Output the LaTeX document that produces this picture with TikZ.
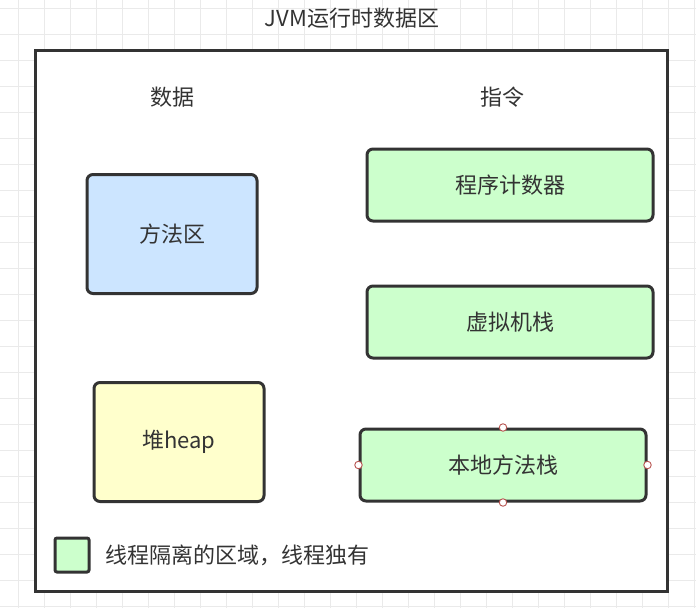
\documentclass[tikz,border=0pt]{standalone}
\usepackage{fontspec}
\setmainfont{Noto Sans CJK SC}
\usepackage{tikz}
\usetikzlibrary{positioning}

\begin{document}
\begin{tikzpicture}[
    x=1pt, y=-1pt,
    area/.style={draw=lineC, rectangle, rounded corners=6pt, line width=3pt,
                 inner sep=0pt, text=textC, font=\fontsize{22}{26}\selectfont},
    label/.style={text=textC, inner sep=0pt, font=\fontsize{22}{26}\selectfont},
    handle/.style={circle, draw=handleC, fill=white, line width=0.9pt,
                   inner sep=0pt, minimum size=7.5pt},
]

% Color definitions
\definecolor{lineC}{RGB}{51,51,51}
\definecolor{textC}{RGB}{51,51,51}
\definecolor{gridC}{RGB}{234,234,234}
\definecolor{methodC}{RGB}{204,229,255}
\definecolor{heapC}{RGB}{255,255,204}
\definecolor{threadC}{RGB}{204,255,204}
\definecolor{handleC}{RGB}{184,84,80}

\useasboundingbox (0,0) rectangle (696,608);

% Background grid
\foreach \gx in {0,...,26} {
  \draw[gridC, line width=0.8pt] (18+26*\gx,0) -- (18+26*\gx,608);
}
\foreach \gy in {0,...,23} {
  \draw[gridC, line width=0.8pt] (0,8.3+26*\gy) -- (696,8.3+26*\gy);
}

% Title and outer frame
\node[label] (title) at (352,18) {JVM运行时数据区};
\node[draw=lineC, fill=white, line width=3pt, rectangle, inner sep=0pt,
      minimum width=632pt, minimum height=541pt] (frame) at (351,320.5) {};

% Column headings
\node[label] (data) at (172,97) {数据};
\node[label] (instr) at (502,97) {指令};

% Shared areas
\node[area, fill=methodC, minimum width=170pt, minimum height=119pt]
  (method) at (172,234) {方法区};
\node[area, fill=heapC, minimum width=170pt, minimum height=119pt]
  (heap) at (179,442) {堆heap};

% Thread-private areas
\node[area, fill=threadC, minimum width=286pt, minimum height=72pt]
  (pc) at (510,185) {程序计数器};
\node[area, fill=threadC, minimum width=286pt, minimum height=72pt]
  (vmstack) at (510,322) {虚拟机栈};
\node[area, fill=threadC, minimum width=286pt, minimum height=72pt]
  (native) at (503,465) {本地方法栈};

% Selection handles
\foreach \a in {north, south, west, east} {
  \node[handle] at (native.\a) {};
}

% Legend
\node[area, fill=threadC, rounded corners=2pt, minimum size=34pt]
  (legend) at (72,555) {};
\node[label, anchor=west] (legendtext) at (105,555) {线程隔离的区域，线程独有};

\end{tikzpicture}
\end{document}
